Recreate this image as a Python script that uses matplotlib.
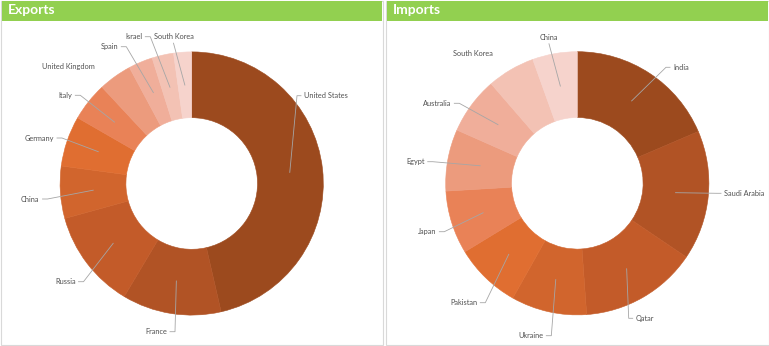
import numpy as np
import matplotlib.pyplot as plt
from matplotlib.patches import Rectangle

W, H = 769, 346

export_countries = ['United States', 'France', 'Russia', 'China', 'Germany', 'Italy',
                    'United Kingdom', 'Spain', 'Israel', 'South Korea']
export_share = [42.0, 11.0, 11.0, 5.8, 5.6, 4.3, 3.7, 2.7, 2.4, 2.0]

import_countries = ['India', 'Saudi Arabia', 'Qatar', 'Ukraine', 'Pakistan', 'Japan',
                    'Egypt', 'Australia', 'South Korea', 'China']
import_share = [9.8, 8.4, 7.6, 4.9, 4.3, 4.1, 4.0, 3.7, 3.1, 2.9]

colors = ['#9C4A1E', '#B15325', '#C35B29', '#D1652D', '#E06E31',
          '#E98257', '#EC9B7D', '#F0AE9A', '#F3C2B4', '#F6D3CC']

# label layout in pixels (x, y from top) and where the leader line attaches
export_labels = [(304, 95.7, 'L'), (167, 331.7, 'R'), (75.5, 281.7, 'R'), (39.5, 199, 'R'),
                 (54, 138, 'R'), (72.3, 95.3, 'R'), (95, 66.7, None), (118.3, 46.7, 'R'),
                 (142.3, 36.7, 'R'), (173.5, 36.7, 'B')]
import_labels = [(673, 67.3, 'L'), (724, 193.3, 'L'), (635.7, 318.3, 'L'), (543.3, 335.7, 'R'),
                 (477.3, 302.7, 'R'), (436.3, 231.7, 'R'), (424.7, 161.7, 'R'), (451.3, 103.3, 'R'),
                 (493.3, 54, None), (549, 37.3, 'B')]

txt_col = '#505050'
line_col = '#A6A6A6'
fnt = 'Lato'

fig = plt.figure(figsize=(W / 100, H / 100), dpi=100)
ax = fig.add_axes([0, 0, 1, 1])


def panel(x0, x1, title):
    ax.add_patch(Rectangle((x0, 1.5), x1 - x0, H - 2.5, facecolor='white',
                           edgecolor='#D9D9D9', linewidth=0.8, zorder=0))
    ax.add_patch(Rectangle((x0 + 1, H - 21), x1 - x0 - 2, 20.5, facecolor='#92D050',
                           edgecolor='none', zorder=1))
    ax.text(x0 + 7, H - 10.5, title, color='white', fontsize=10, fontweight='bold',
            family=fnt, ha='left', va='center', zorder=2)


def donut(values, names, cx, cy, r, labels):
    wedges, _ = ax.pie(values, colors=colors, startangle=90, counterclock=False,
                       center=(cx, H - cy), radius=r, frame=True,
                       wedgeprops=dict(width=r * 0.5, linewidth=0.4))
    for w in wedges:
        w.set_edgecolor(w.get_facecolor())
    for w, name, (tx, ty, side) in zip(wedges, names, labels):
        mid = np.deg2rad((w.theta1 + w.theta2) / 2)
        px = cx + 0.75 * r * np.cos(mid)
        py = H - cy + 0.75 * r * np.sin(mid)
        ty = H - ty
        ha = {'L': 'left', 'R': 'right', 'B': 'center', None: 'right'}[side]
        ax.text(tx, ty, name, ha=ha, va='center', fontsize=5.3, color=txt_col, family=fnt)
        if side == 'L':
            ax.plot([px, tx - 7, tx - 3], [py, ty, ty], color=line_col, lw=0.6)
        elif side == 'R':
            ax.plot([px, tx + 8, tx + 3], [py, ty, ty], color=line_col, lw=0.6)
        elif side == 'B':
            ax.plot([px, tx], [py, ty - 6.5], color=line_col, lw=0.6)


panel(0.5, 383, 'Exports')
panel(385.5, 768.5, 'Imports')
donut(export_share, export_countries, 191.7, 183.5, 131.6, export_labels)
donut(import_share, import_countries, 577.3, 183.3, 131.6, import_labels)

ax.set_xlim(0, W)
ax.set_ylim(0, H)
ax.set_aspect('auto')
ax.axis('off')

fig.savefig('out.png', dpi=100)
